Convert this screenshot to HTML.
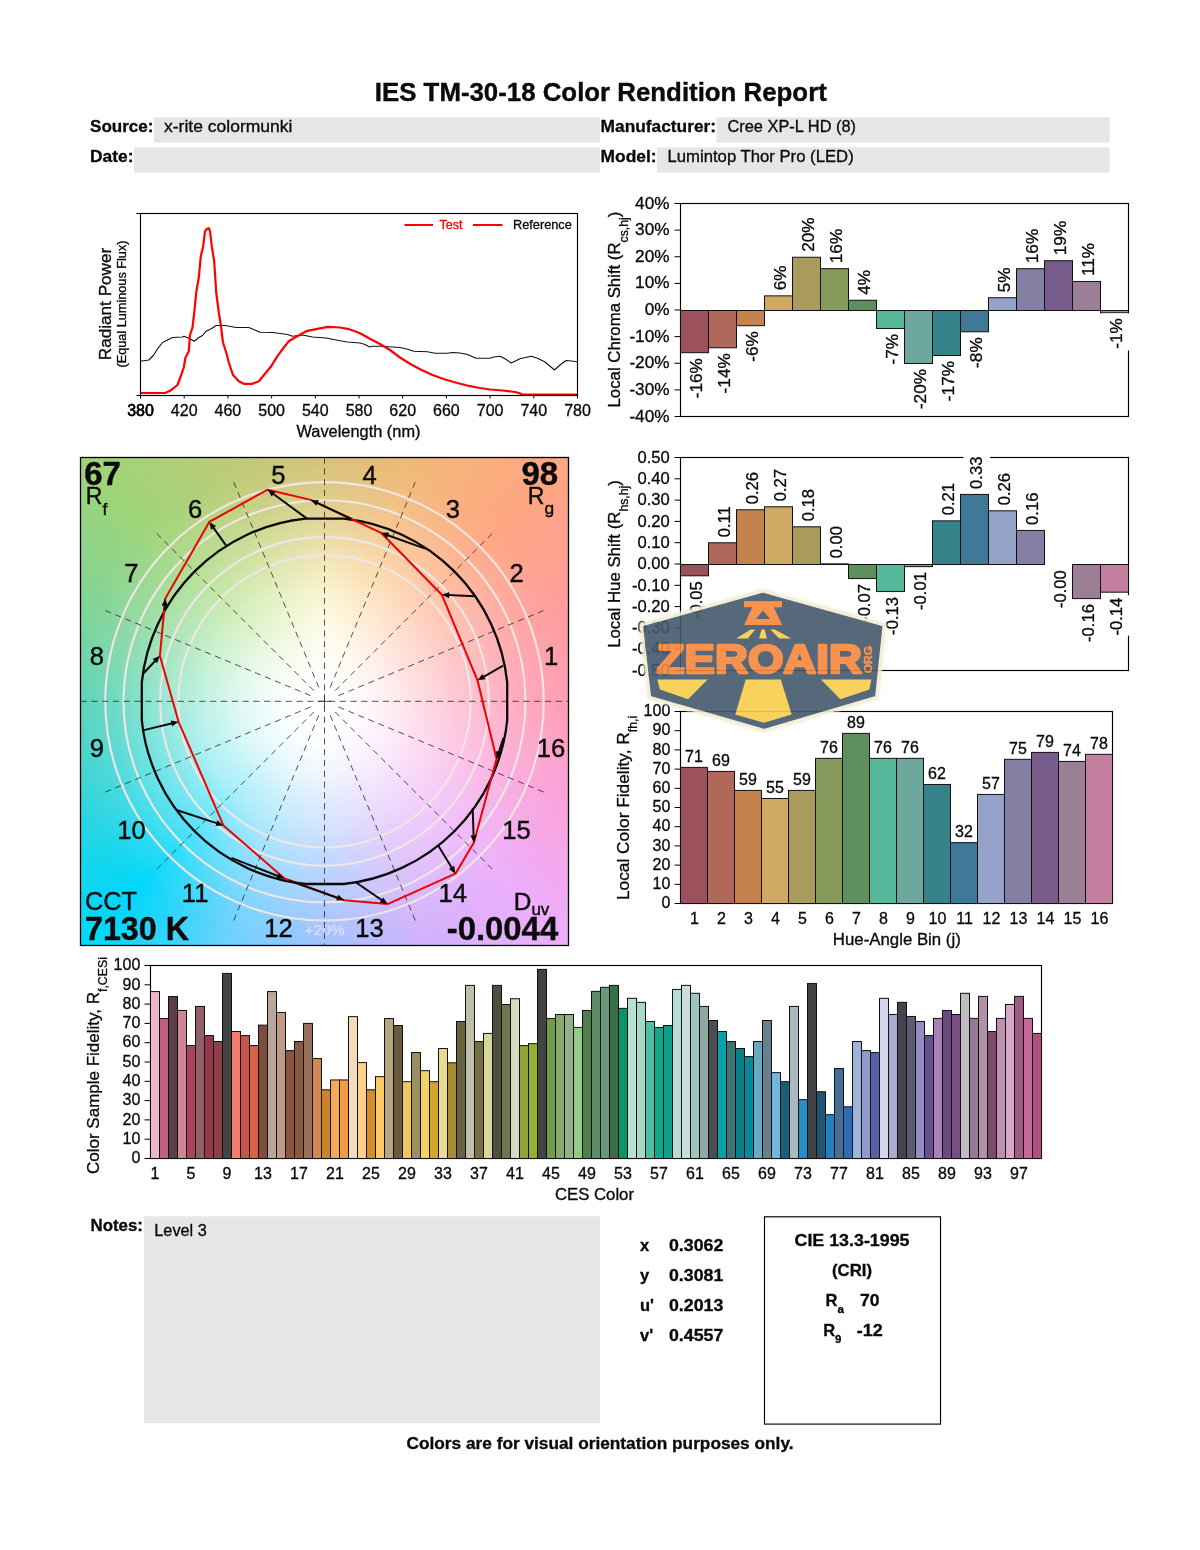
<!DOCTYPE html>
<html lang="en"><head><meta charset="utf-8"><title>IES TM-30-18 Color Rendition Report</title>
<style>
html,body{margin:0;padding:0;background:#fff;}
body{width:1200px;height:1550px;position:relative;overflow:hidden;font-family:"Liberation Sans",sans-serif;}
#cvgbg,#cvgin,#cvgwh{position:absolute;left:80.5px;top:457.5px;width:488px;height:488px;}
#cvgbg{background:conic-gradient(from 0deg at 50% 50%, #d8c278 0deg, #f2b878 22deg, #ffa682 45deg, #ff9d9c 68deg, #ff9bb4 90deg, #fba2da 112deg, #ecaefc 135deg, #d0b2fb 158deg, #9cc0ff 180deg, #6cd0fd 202deg, #00d7fa 225deg, #32d5da 248deg, #58d2b8 270deg, #80d496 292deg, #9fd479 315deg, #bccb76 338deg, #d8c278 360deg);}
#cvgin{background:conic-gradient(from 0deg at 50% 50%, #fff6c4 0deg, #ffe2b4 22deg, #ffd0b2 45deg, #ffc4c0 68deg, #ffc0d2 90deg, #fcc2e6 112deg, #f0c4fa 135deg, #dccafc 158deg, #c0d6ff 180deg, #a4e0fc 202deg, #8ee8f8 225deg, #98eeec 248deg, #a8f0dc 270deg, #b8eec0 292deg, #c8eca8 315deg, #e2f0b0 338deg, #fff6c4 360deg);-webkit-mask-image:radial-gradient(circle at 49% 51.5%, rgba(0,0,0,1) 0%, rgba(0,0,0,1) 22%, rgba(0,0,0,0.8) 34%, rgba(0,0,0,0.45) 46%, rgba(0,0,0,0.15) 58%, rgba(0,0,0,0) 70%);mask-image:radial-gradient(circle at 49% 51.5%, rgba(0,0,0,1) 0%, rgba(0,0,0,1) 22%, rgba(0,0,0,0.8) 34%, rgba(0,0,0,0.45) 46%, rgba(0,0,0,0.15) 58%, rgba(0,0,0,0) 70%);}
#cvgwh{background:radial-gradient(circle at 49% 51.5%, rgba(255,255,255,1) 0%, rgba(255,255,255,0.96) 10%, rgba(255,255,255,0.76) 18%, rgba(255,255,255,0.48) 28%, rgba(255,255,255,0.28) 38%, rgba(255,255,255,0.15) 50%, rgba(255,255,255,0.06) 62%, rgba(255,255,255,0) 74%);}
svg{position:absolute;left:0;top:0;will-change:transform;}
svg text{font-family:"Liberation Sans",sans-serif;}
</style></head><body>
<div id="cvgbg"></div><div id="cvgin"></div><div id="cvgwh"></div>
<svg width="1200" height="1550" viewBox="0 0 1200 1550">
<g id="cvg">
<circle cx="324.5" cy="701.3" r="146.2" fill="none" stroke="#efe6e4" stroke-width="2.1"/>
<circle cx="324.5" cy="701.3" r="164.4" fill="none" stroke="#efe6e4" stroke-width="2.1"/>
<circle cx="324.5" cy="701.3" r="201.0" fill="none" stroke="#efe6e4" stroke-width="2.1"/>
<circle cx="324.5" cy="701.3" r="219.2" fill="none" stroke="#efe6e4" stroke-width="2.1"/>
<text x="324.50" y="935.20" font-size="15.5" text-anchor="middle" fill="#dddcf8" stroke="#dddcf8" stroke-width="0.32">+20%</text>
<path d="M338.4 695.6L548.1 608.7M335.1 690.7L495.6 530.2M330.2 687.4L417.1 477.7M318.8 687.4L231.9 477.7M313.9 690.7L153.4 530.2M310.6 695.6L100.9 608.7M310.6 707.0L100.9 793.9M313.9 711.9L153.4 872.4M318.8 715.2L231.9 924.9M330.2 715.2L417.1 924.9M335.1 711.9L495.6 872.4M338.4 707.0L548.1 793.9M80.5 701.3H568.5M324.5 457.5V945.5" stroke="#222" stroke-width="0.85" stroke-dasharray="6.2 4.6" fill="none" opacity="0.92"/>
<path d="M317.5 701.3h14M324.5 694.3v14" stroke="#2a2a2a" stroke-width="0.8" fill="none"/>
<path d="M507.2 682.1A183.7 183.7 0 0 0 343.7 518.6L305.3 518.6A183.7 183.7 0 0 0 141.8 682.1L141.8 720.5A183.7 183.7 0 0 0 305.3 884.0L343.7 884.0A183.7 183.7 0 0 0 507.2 720.5L507.2 682.1Z" fill="none" stroke="#0a0a0a" stroke-width="2.3" stroke-linejoin="round"/>
<polygon points="477.5,680.3 441.8,594.7 381.1,532.8 310.8,499.9 267.6,489.7 209.3,521.9 165.3,598.4 159.9,655.8 178.6,721.8 223.4,825.4 284.5,878.5 344.3,900.2 387.6,904.1 455.4,873.7 473.8,842.8 496.6,758.9" fill="none" stroke="#f00000" stroke-width="2.0" stroke-linejoin="round"/>
<path d="M503.1 665.6L483.1 677.1" stroke="#0a0a0a" stroke-width="2.0" fill="none"/>
<path d="M477.5 680.3L482.4 673.9L485.5 679.3Z" fill="#0a0a0a"/>
<path d="M474.3 596.3L448.2 595.0" stroke="#0a0a0a" stroke-width="2.0" fill="none"/>
<path d="M441.8 594.7L449.3 592.0L449.0 598.2Z" fill="#0a0a0a"/>
<path d="M425.1 548.6L387.1 535.0" stroke="#0a0a0a" stroke-width="2.0" fill="none"/>
<path d="M381.1 532.8L389.1 532.4L387.0 538.2Z" fill="#0a0a0a"/>
<path d="M351.5 519.0L316.6 502.6" stroke="#0a0a0a" stroke-width="2.0" fill="none"/>
<path d="M310.8 499.9L318.8 500.2L316.2 505.8Z" fill="#0a0a0a"/>
<path d="M307.3 518.9L272.8 493.5" stroke="#0a0a0a" stroke-width="2.0" fill="none"/>
<path d="M267.6 489.7L275.4 491.6L271.7 496.6Z" fill="#0a0a0a"/>
<path d="M226.0 545.3L213.0 527.1" stroke="#0a0a0a" stroke-width="2.0" fill="none"/>
<path d="M209.3 521.9L216.1 526.1L211.1 529.7Z" fill="#0a0a0a"/>
<path d="M164.3 610.3L164.8 604.8" stroke="#0a0a0a" stroke-width="2.0" fill="none"/>
<path d="M165.3 598.4L167.8 606.0L161.6 605.5Z" fill="#0a0a0a"/>
<path d="M143.6 673.2L155.5 660.5" stroke="#0a0a0a" stroke-width="2.0" fill="none"/>
<path d="M159.9 655.8L157.1 663.3L152.6 659.1Z" fill="#0a0a0a"/>
<path d="M143.8 730.1L172.4 723.3" stroke="#0a0a0a" stroke-width="2.0" fill="none"/>
<path d="M178.6 721.8L172.1 726.5L170.7 720.5Z" fill="#0a0a0a"/>
<path d="M177.3 810.3L217.3 823.4" stroke="#0a0a0a" stroke-width="2.0" fill="none"/>
<path d="M223.4 825.4L215.4 826.0L217.3 820.2Z" fill="#0a0a0a"/>
<path d="M231.4 857.9L278.5 876.2" stroke="#0a0a0a" stroke-width="2.0" fill="none"/>
<path d="M284.5 878.5L276.5 878.7L278.7 872.9Z" fill="#0a0a0a"/>
<path d="M288.8 880.5L338.3 898.1" stroke="#0a0a0a" stroke-width="2.0" fill="none"/>
<path d="M344.3 900.2L336.3 900.6L338.4 894.8Z" fill="#0a0a0a"/>
<path d="M355.1 881.8L382.3 900.5" stroke="#0a0a0a" stroke-width="2.0" fill="none"/>
<path d="M387.6 904.1L379.7 902.5L383.3 897.4Z" fill="#0a0a0a"/>
<path d="M438.5 846.0L452.1 868.2" stroke="#0a0a0a" stroke-width="2.0" fill="none"/>
<path d="M455.4 873.7L448.9 869.0L454.2 865.8Z" fill="#0a0a0a"/>
<path d="M472.7 808.1L473.6 836.4" stroke="#0a0a0a" stroke-width="2.0" fill="none"/>
<path d="M473.8 842.8L470.5 835.5L476.7 835.3Z" fill="#0a0a0a"/>
<path d="M503.5 737.7L498.6 752.8" stroke="#0a0a0a" stroke-width="2.0" fill="none"/>
<path d="M496.6 758.9L495.9 750.9L501.8 752.8Z" fill="#0a0a0a"/>
<text x="551.06" y="665.33" font-size="25.6" text-anchor="middle" fill="#0a0a0a" stroke="#0a0a0a" stroke-width="0.4">1</text>
<text x="516.57" y="582.06" font-size="25.6" text-anchor="middle" fill="#0a0a0a" stroke="#0a0a0a" stroke-width="0.4">2</text>
<text x="452.84" y="518.33" font-size="25.6" text-anchor="middle" fill="#0a0a0a" stroke="#0a0a0a" stroke-width="0.4">3</text>
<text x="369.57" y="483.84" font-size="25.6" text-anchor="middle" fill="#0a0a0a" stroke="#0a0a0a" stroke-width="0.4">4</text>
<text x="278.43" y="483.84" font-size="25.6" text-anchor="middle" fill="#0a0a0a" stroke="#0a0a0a" stroke-width="0.4">5</text>
<text x="195.16" y="518.33" font-size="25.6" text-anchor="middle" fill="#0a0a0a" stroke="#0a0a0a" stroke-width="0.4">6</text>
<text x="131.43" y="582.06" font-size="25.6" text-anchor="middle" fill="#0a0a0a" stroke="#0a0a0a" stroke-width="0.4">7</text>
<text x="96.94" y="665.33" font-size="25.6" text-anchor="middle" fill="#0a0a0a" stroke="#0a0a0a" stroke-width="0.4">8</text>
<text x="96.94" y="756.97" font-size="25.6" text-anchor="middle" fill="#0a0a0a" stroke="#0a0a0a" stroke-width="0.4">9</text>
<text x="131.43" y="838.74" font-size="25.6" text-anchor="middle" fill="#0a0a0a" stroke="#0a0a0a" stroke-width="0.4">10</text>
<text x="195.16" y="902.47" font-size="25.6" text-anchor="middle" fill="#0a0a0a" stroke="#0a0a0a" stroke-width="0.4">11</text>
<text x="278.43" y="936.96" font-size="25.6" text-anchor="middle" fill="#0a0a0a" stroke="#0a0a0a" stroke-width="0.4">12</text>
<text x="369.57" y="936.96" font-size="25.6" text-anchor="middle" fill="#0a0a0a" stroke="#0a0a0a" stroke-width="0.4">13</text>
<text x="452.84" y="902.47" font-size="25.6" text-anchor="middle" fill="#0a0a0a" stroke="#0a0a0a" stroke-width="0.4">14</text>
<text x="516.57" y="838.74" font-size="25.6" text-anchor="middle" fill="#0a0a0a" stroke="#0a0a0a" stroke-width="0.4">15</text>
<text x="551.06" y="756.97" font-size="25.6" text-anchor="middle" fill="#0a0a0a" stroke="#0a0a0a" stroke-width="0.4">16</text>
<text x="84.20" y="485.30" font-size="33" font-weight="700" fill="#0a0a0a" stroke="#0a0a0a" stroke-width="0.4">67</text>
<text x="85.80" y="504.40" font-size="23" fill="#0a0a0a" stroke="#0a0a0a" stroke-width="0.4">R<tspan font-size="17.4" dy="11">f</tspan></text>
<text x="558.20" y="485.30" font-size="33" text-anchor="end" font-weight="700" fill="#0a0a0a" stroke="#0a0a0a" stroke-width="0.4">98</text>
<text x="527.80" y="504.40" font-size="23" fill="#0a0a0a" stroke="#0a0a0a" stroke-width="0.4">R<tspan font-size="17.4" dy="9.5">g</tspan></text>
<text x="85.00" y="909.90" font-size="26.5" fill="#0a0a0a" textLength="52.0" lengthAdjust="spacingAndGlyphs" stroke="#0a0a0a" stroke-width="0.35">CCT</text>
<text x="85.00" y="940.20" font-size="33" font-weight="700" fill="#0a0a0a" stroke="#0a0a0a" stroke-width="0.4" textLength="104.0" lengthAdjust="spacingAndGlyphs">7130 K</text>
<text x="513.80" y="909.90" font-size="23" fill="#0a0a0a" stroke="#0a0a0a" stroke-width="0.4" textLength="35.5" lengthAdjust="spacingAndGlyphs">D<tspan font-size="16" dy="5.5">uv</tspan></text>
<text x="558.20" y="940.20" font-size="33.5" text-anchor="end" font-weight="700" fill="#0a0a0a" stroke="#0a0a0a" stroke-width="0.4" textLength="111.5" lengthAdjust="spacingAndGlyphs">-0.0044</text>
<rect x="80.5" y="457.5" width="488.0" height="488.0" fill="none" stroke="#000" stroke-width="1.3"/>
</g>
<g id="charts">
<rect x="154" y="117.3" width="446" height="25.3" fill="#e6e6e6"/>
<rect x="134" y="147.4" width="466" height="25.2" fill="#e6e6e6"/>
<rect x="716.5" y="117.3" width="393.2" height="25.3" fill="#e6e6e6"/>
<rect x="657" y="147.4" width="452.7" height="25.2" fill="#e6e6e6"/>
<text x="600.80" y="101.00" font-size="26" text-anchor="middle" font-weight="700" fill="#0a0a0a" stroke="#0a0a0a" stroke-width="0.4" textLength="452.0" lengthAdjust="spacingAndGlyphs">IES TM-30-18 Color Rendition Report</text>
<text x="90.00" y="132.00" font-size="17" font-weight="700" fill="#0a0a0a" stroke="#0a0a0a" stroke-width="0.32" textLength="63.5" lengthAdjust="spacingAndGlyphs">Source:</text>
<text x="90.00" y="161.80" font-size="17" font-weight="700" fill="#0a0a0a" stroke="#0a0a0a" stroke-width="0.32" textLength="43.5" lengthAdjust="spacingAndGlyphs">Date:</text>
<text x="600.60" y="132.00" font-size="17" font-weight="700" fill="#0a0a0a" stroke="#0a0a0a" stroke-width="0.32" textLength="115.5" lengthAdjust="spacingAndGlyphs">Manufacturer:</text>
<text x="600.60" y="161.80" font-size="17" font-weight="700" fill="#0a0a0a" stroke="#0a0a0a" stroke-width="0.32" textLength="56.0" lengthAdjust="spacingAndGlyphs">Model:</text>
<text x="164.00" y="132.00" font-size="17" fill="#0a0a0a" stroke="#0a0a0a" stroke-width="0.32" textLength="128.5" lengthAdjust="spacingAndGlyphs">x-rite colormunki</text>
<text x="727.50" y="132.00" font-size="17" fill="#0a0a0a" stroke="#0a0a0a" stroke-width="0.32" textLength="128.5" lengthAdjust="spacingAndGlyphs">Cree XP-L HD (8)</text>
<text x="667.50" y="161.80" font-size="17" fill="#0a0a0a" stroke="#0a0a0a" stroke-width="0.32" textLength="186.2" lengthAdjust="spacingAndGlyphs">Lumintop Thor Pro (LED)</text>
<polyline points="140.2,361.2 148.8,360.0 153.8,355.0 157.5,348.8 162.5,342.5 172.5,337.5 182.5,337.0 183.8,336.2 190.0,338.8 194.2,341.2 198.8,337.5 202.5,335.5 206.2,331.2 211.2,328.8 216.2,325.5 225.0,325.5 236.2,327.5 248.8,327.5 255.0,330.0 260.0,332.2 272.5,332.5 287.5,334.5 292.5,336.2 302.5,335.0 312.5,337.0 326.2,338.0 340.0,340.8 347.5,342.0 360.0,343.0 365.0,344.5 369.5,347.0 372.5,346.2 380.0,346.2 400.0,347.5 407.5,349.2 413.8,351.2 427.5,351.8 435.0,353.2 447.5,353.2 452.5,352.5 460.0,353.0 467.5,354.5 476.2,358.2 490.0,358.2 493.8,357.0 500.0,356.2 505.0,358.8 511.2,363.0 520.0,358.8 531.2,356.2 537.5,358.2 545.0,362.0 554.5,370.0 560.0,365.0 566.2,360.5 571.2,361.0 577.0,361.8" fill="none" stroke="#111" stroke-width="1.1" stroke-linejoin="round"/>
<polyline points="140.2,393.0 165.0,393.0 170.0,390.8 173.8,388.0 177.5,385.0 181.2,375.0 183.8,367.5 185.5,357.5 188.8,351.2 190.0,335.0 192.5,327.5 194.5,310.0 196.2,292.5 198.8,277.5 200.8,256.2 203.2,246.2 205.0,231.2 207.0,228.8 208.8,228.2 210.0,231.2 211.8,246.2 214.2,261.2 216.2,292.5 218.8,312.5 220.8,325.0 223.0,342.5 226.2,352.5 228.8,362.5 233.0,375.0 238.8,381.2 243.8,383.8 252.5,383.8 258.8,381.2 265.0,373.8 271.2,366.2 277.5,356.2 283.8,347.5 288.8,341.2 295.0,337.5 306.2,331.2 317.5,328.8 327.5,326.8 340.0,327.5 347.5,328.8 355.0,331.2 360.0,333.2 370.0,338.8 380.0,344.0 390.0,350.0 400.0,357.5 410.0,363.8 420.0,369.2 432.5,375.0 445.0,379.5 457.5,383.0 470.0,386.2 480.0,388.0 490.0,389.5 502.5,390.5 515.0,392.0 518.8,393.0 522.5,394.5 577.0,394.5" fill="none" stroke="#ff0000" stroke-width="2.2" stroke-linejoin="round"/>
<rect x="140.5" y="213.5" width="437.0" height="182.0" fill="none" stroke="#000" stroke-width="1.15"/>
<path d="M140.50 395.5v3M184.20 395.5v3M227.90 395.5v3M271.60 395.5v3M315.30 395.5v3M359.00 395.5v3M402.70 395.5v3M446.40 395.5v3M490.10 395.5v3M533.80 395.5v3M577.50 395.5v3M140.5 213.5h-4M140.5 395.5h-4" stroke="#000" stroke-width="1" fill="none"/>
<text x="140.50" y="416.00" font-size="16" text-anchor="middle" fill="#0a0a0a" stroke="#0a0a0a" stroke-width="0.32">380</text>
<text x="184.20" y="416.00" font-size="16" text-anchor="middle" fill="#0a0a0a" stroke="#0a0a0a" stroke-width="0.32">420</text>
<text x="227.90" y="416.00" font-size="16" text-anchor="middle" fill="#0a0a0a" stroke="#0a0a0a" stroke-width="0.32">460</text>
<text x="271.60" y="416.00" font-size="16" text-anchor="middle" fill="#0a0a0a" stroke="#0a0a0a" stroke-width="0.32">500</text>
<text x="315.30" y="416.00" font-size="16" text-anchor="middle" fill="#0a0a0a" stroke="#0a0a0a" stroke-width="0.32">540</text>
<text x="359.00" y="416.00" font-size="16" text-anchor="middle" fill="#0a0a0a" stroke="#0a0a0a" stroke-width="0.32">580</text>
<text x="402.70" y="416.00" font-size="16" text-anchor="middle" fill="#0a0a0a" stroke="#0a0a0a" stroke-width="0.32">620</text>
<text x="446.40" y="416.00" font-size="16" text-anchor="middle" fill="#0a0a0a" stroke="#0a0a0a" stroke-width="0.32">660</text>
<text x="490.10" y="416.00" font-size="16" text-anchor="middle" fill="#0a0a0a" stroke="#0a0a0a" stroke-width="0.32">700</text>
<text x="533.80" y="416.00" font-size="16" text-anchor="middle" fill="#0a0a0a" stroke="#0a0a0a" stroke-width="0.32">740</text>
<text x="577.50" y="416.00" font-size="16" text-anchor="middle" fill="#0a0a0a" stroke="#0a0a0a" stroke-width="0.32">780</text>
<text x="140.50" y="416.00" font-size="16" text-anchor="middle" fill="#0a0a0a" stroke="#0a0a0a" stroke-width="0.32">380</text>
<text x="358.50" y="436.50" font-size="16.5" text-anchor="middle" fill="#0a0a0a" stroke="#0a0a0a" stroke-width="0.32" textLength="124.0" lengthAdjust="spacingAndGlyphs">Wavelength (nm)</text>
<text transform="translate(111.00 304.00) rotate(-90)" font-size="16.5" text-anchor="middle" fill="#0a0a0a" stroke="#0a0a0a" stroke-width="0.32" textLength="112.5" lengthAdjust="spacingAndGlyphs">Radiant Power</text>
<text transform="translate(126.00 304.00) rotate(-90)" font-size="12" text-anchor="middle" fill="#0a0a0a" stroke="#0a0a0a" stroke-width="0.32" textLength="127.0" lengthAdjust="spacingAndGlyphs">(Equal Luminous Flux)</text>
<path d="M404.5 225h28.5M473 225h29.5" stroke="#ff0000" stroke-width="2.2"/>
<text x="439.50" y="229.00" font-size="12.5" fill="#ff0000" stroke="#ff0000" stroke-width="0.32" textLength="23.0" lengthAdjust="spacingAndGlyphs">Test</text>
<text x="513.00" y="229.00" font-size="12.5" fill="#0a0a0a" stroke="#0a0a0a" stroke-width="0.32" textLength="58.8" lengthAdjust="spacingAndGlyphs">Reference</text>
<rect x="680.5" y="203.5" width="448.0" height="213.0" fill="#fff" stroke="#000" stroke-width="1.15"/>
<rect x="680.50" y="310.50" width="28.0" height="42.20" fill="#9B525C" stroke="#111" stroke-width="1"/>
<rect x="708.50" y="310.50" width="28.0" height="37.27" fill="#B0685A" stroke="#111" stroke-width="1"/>
<rect x="736.50" y="310.50" width="28.0" height="15.18" fill="#C4834E" stroke="#111" stroke-width="1"/>
<rect x="764.50" y="295.86" width="28.0" height="14.64" fill="#CFAA65" stroke="#111" stroke-width="1"/>
<rect x="792.50" y="257.25" width="28.0" height="53.25" fill="#A89B5C" stroke="#111" stroke-width="1"/>
<rect x="820.50" y="268.70" width="28.0" height="41.80" fill="#859A5B" stroke="#111" stroke-width="1"/>
<rect x="848.50" y="300.25" width="28.0" height="10.25" fill="#608F5F" stroke="#111" stroke-width="1"/>
<rect x="876.50" y="310.50" width="28.0" height="17.97" fill="#55B89A" stroke="#111" stroke-width="1"/>
<rect x="904.50" y="310.50" width="28.0" height="52.98" fill="#6DA89F" stroke="#111" stroke-width="1"/>
<rect x="932.50" y="310.50" width="28.0" height="45.00" fill="#35828A" stroke="#111" stroke-width="1"/>
<rect x="960.50" y="310.50" width="28.0" height="21.30" fill="#407898" stroke="#111" stroke-width="1"/>
<rect x="988.50" y="297.72" width="28.0" height="12.78" fill="#95A3CB" stroke="#111" stroke-width="1"/>
<rect x="1016.50" y="268.70" width="28.0" height="41.80" fill="#8480A3" stroke="#111" stroke-width="1"/>
<rect x="1044.50" y="260.71" width="28.0" height="49.79" fill="#775C8C" stroke="#111" stroke-width="1"/>
<rect x="1072.50" y="281.48" width="28.0" height="29.02" fill="#9B7F96" stroke="#111" stroke-width="1"/>
<rect x="1100.50" y="310.50" width="28.0" height="2.26" fill="#C37F9D" stroke="#111" stroke-width="1"/>
<text transform="translate(701.80 358.20) rotate(-90)" font-size="17.2" text-anchor="end" fill="#0a0a0a" stroke="#0a0a0a" stroke-width="0.32">-16%</text>
<text transform="translate(729.80 353.27) rotate(-90)" font-size="17.2" text-anchor="end" fill="#0a0a0a" stroke="#0a0a0a" stroke-width="0.32">-14%</text>
<text transform="translate(757.80 331.18) rotate(-90)" font-size="17.2" text-anchor="end" fill="#0a0a0a" stroke="#0a0a0a" stroke-width="0.32">-6%</text>
<text transform="translate(785.80 290.36) rotate(-90)" font-size="17.2" fill="#0a0a0a" stroke="#0a0a0a" stroke-width="0.32">6%</text>
<text transform="translate(813.80 251.75) rotate(-90)" font-size="17.2" fill="#0a0a0a" stroke="#0a0a0a" stroke-width="0.32">20%</text>
<text transform="translate(841.80 263.20) rotate(-90)" font-size="17.2" fill="#0a0a0a" stroke="#0a0a0a" stroke-width="0.32">16%</text>
<text transform="translate(869.80 294.75) rotate(-90)" font-size="17.2" fill="#0a0a0a" stroke="#0a0a0a" stroke-width="0.32">4%</text>
<text transform="translate(897.80 333.97) rotate(-90)" font-size="17.2" text-anchor="end" fill="#0a0a0a" stroke="#0a0a0a" stroke-width="0.32">-7%</text>
<text transform="translate(925.80 368.98) rotate(-90)" font-size="17.2" text-anchor="end" fill="#0a0a0a" stroke="#0a0a0a" stroke-width="0.32">-20%</text>
<text transform="translate(953.80 361.00) rotate(-90)" font-size="17.2" text-anchor="end" fill="#0a0a0a" stroke="#0a0a0a" stroke-width="0.32">-17%</text>
<text transform="translate(981.80 337.30) rotate(-90)" font-size="17.2" text-anchor="end" fill="#0a0a0a" stroke="#0a0a0a" stroke-width="0.32">-8%</text>
<text transform="translate(1009.80 292.22) rotate(-90)" font-size="17.2" fill="#0a0a0a" stroke="#0a0a0a" stroke-width="0.32">5%</text>
<text transform="translate(1037.80 263.20) rotate(-90)" font-size="17.2" fill="#0a0a0a" stroke="#0a0a0a" stroke-width="0.32">16%</text>
<text transform="translate(1065.80 255.21) rotate(-90)" font-size="17.2" fill="#0a0a0a" stroke="#0a0a0a" stroke-width="0.32">19%</text>
<text transform="translate(1093.80 275.98) rotate(-90)" font-size="17.2" fill="#0a0a0a" stroke="#0a0a0a" stroke-width="0.32">11%</text>
<rect x="1102.5" y="313.4" width="28" height="37" fill="#fff"/>
<text transform="translate(1121.80 318.26) rotate(-90)" font-size="17.2" text-anchor="end" fill="#0a0a0a" stroke="#0a0a0a" stroke-width="0.32">-1%</text>
<text x="669.50" y="208.60" font-size="17.2" text-anchor="end" fill="#0a0a0a" stroke="#0a0a0a" stroke-width="0.32">40%</text>
<text x="669.50" y="235.22" font-size="17.2" text-anchor="end" fill="#0a0a0a" stroke="#0a0a0a" stroke-width="0.32">30%</text>
<text x="669.50" y="261.85" font-size="17.2" text-anchor="end" fill="#0a0a0a" stroke="#0a0a0a" stroke-width="0.32">20%</text>
<text x="669.50" y="288.48" font-size="17.2" text-anchor="end" fill="#0a0a0a" stroke="#0a0a0a" stroke-width="0.32">10%</text>
<text x="669.50" y="315.10" font-size="17.2" text-anchor="end" fill="#0a0a0a" stroke="#0a0a0a" stroke-width="0.32">0%</text>
<text x="669.50" y="341.73" font-size="17.2" text-anchor="end" fill="#0a0a0a" stroke="#0a0a0a" stroke-width="0.32">-10%</text>
<text x="669.50" y="368.35" font-size="17.2" text-anchor="end" fill="#0a0a0a" stroke="#0a0a0a" stroke-width="0.32">-20%</text>
<text x="669.50" y="394.98" font-size="17.2" text-anchor="end" fill="#0a0a0a" stroke="#0a0a0a" stroke-width="0.32">-30%</text>
<text x="669.50" y="421.60" font-size="17.2" text-anchor="end" fill="#0a0a0a" stroke="#0a0a0a" stroke-width="0.32">-40%</text>
<path d="M680.5 203.50h-6M680.5 230.12h-6M680.5 256.75h-6M680.5 283.38h-6M680.5 310.00h-6M680.5 336.62h-6M680.5 363.25h-6M680.5 389.88h-6M680.5 416.50h-6" stroke="#000" stroke-width="1" fill="none"/>
<text transform="translate(620.30 407.50) rotate(-90)" font-size="16.8" fill="#0a0a0a" stroke="#0a0a0a" stroke-width="0.32">Local Chroma Shift (R<tspan font-size="12.2" dy="7.5">cs,hj</tspan><tspan font-size="16.8" dy="-7.5">)</tspan></text>
<rect x="680.5" y="457.5" width="448.0" height="213.0" fill="#fff" stroke="#000" stroke-width="1.15"/>
<rect x="680.50" y="564.50" width="28.0" height="11.29" fill="#9B525C" stroke="#111" stroke-width="1"/>
<rect x="708.50" y="542.77" width="28.0" height="21.73" fill="#B0685A" stroke="#111" stroke-width="1"/>
<rect x="736.50" y="509.76" width="28.0" height="54.74" fill="#C4834E" stroke="#111" stroke-width="1"/>
<rect x="764.50" y="506.78" width="28.0" height="57.72" fill="#CFAA65" stroke="#111" stroke-width="1"/>
<rect x="792.50" y="526.80" width="28.0" height="37.70" fill="#A89B5C" stroke="#111" stroke-width="1"/>
<rect x="820.50" y="563.86" width="28.0" height="0.64" fill="#859A5B" stroke="#111" stroke-width="1"/>
<rect x="848.50" y="564.50" width="28.0" height="14.06" fill="#608F5F" stroke="#111" stroke-width="1"/>
<rect x="876.50" y="564.50" width="28.0" height="27.05" fill="#55B89A" stroke="#111" stroke-width="1"/>
<rect x="904.50" y="564.50" width="28.0" height="2.13" fill="#6DA89F" stroke="#111" stroke-width="1"/>
<rect x="932.50" y="520.84" width="28.0" height="43.66" fill="#35828A" stroke="#111" stroke-width="1"/>
<rect x="960.50" y="494.42" width="28.0" height="70.08" fill="#407898" stroke="#111" stroke-width="1"/>
<rect x="988.50" y="510.82" width="28.0" height="53.68" fill="#95A3CB" stroke="#111" stroke-width="1"/>
<rect x="1016.50" y="530.42" width="28.0" height="34.08" fill="#8480A3" stroke="#111" stroke-width="1"/>
<rect x="1072.50" y="564.50" width="28.0" height="34.08" fill="#9B7F96" stroke="#111" stroke-width="1"/>
<rect x="1100.50" y="564.50" width="28.0" height="27.69" fill="#C37F9D" stroke="#111" stroke-width="1"/>
<text transform="translate(701.60 581.29) rotate(-90)" font-size="16.6" text-anchor="end" fill="#0a0a0a" stroke="#0a0a0a" stroke-width="0.32">-0.05</text>
<text transform="translate(729.60 537.27) rotate(-90)" font-size="16.6" fill="#0a0a0a" stroke="#0a0a0a" stroke-width="0.32">0.11</text>
<text transform="translate(757.60 504.26) rotate(-90)" font-size="16.6" fill="#0a0a0a" stroke="#0a0a0a" stroke-width="0.32">0.26</text>
<text transform="translate(785.60 501.28) rotate(-90)" font-size="16.6" fill="#0a0a0a" stroke="#0a0a0a" stroke-width="0.32">0.27</text>
<text transform="translate(813.60 521.30) rotate(-90)" font-size="16.6" fill="#0a0a0a" stroke="#0a0a0a" stroke-width="0.32">0.18</text>
<text transform="translate(841.60 558.36) rotate(-90)" font-size="16.6" fill="#0a0a0a" stroke="#0a0a0a" stroke-width="0.32">0.00</text>
<text transform="translate(869.60 584.06) rotate(-90)" font-size="16.6" text-anchor="end" fill="#0a0a0a" stroke="#0a0a0a" stroke-width="0.32">-0.07</text>
<text transform="translate(897.60 597.05) rotate(-90)" font-size="16.6" text-anchor="end" fill="#0a0a0a" stroke="#0a0a0a" stroke-width="0.32">-0.13</text>
<text transform="translate(925.60 572.13) rotate(-90)" font-size="16.6" text-anchor="end" fill="#0a0a0a" stroke="#0a0a0a" stroke-width="0.32">-0.01</text>
<text transform="translate(953.60 515.34) rotate(-90)" font-size="16.6" fill="#0a0a0a" stroke="#0a0a0a" stroke-width="0.32">0.21</text>
<rect x="963.5" y="455.3" width="26.5" height="35.1" fill="#fff"/>
<text transform="translate(981.60 488.92) rotate(-90)" font-size="16.6" fill="#0a0a0a" stroke="#0a0a0a" stroke-width="0.32">0.33</text>
<text transform="translate(1009.60 505.32) rotate(-90)" font-size="16.6" fill="#0a0a0a" stroke="#0a0a0a" stroke-width="0.32">0.26</text>
<text transform="translate(1037.60 524.92) rotate(-90)" font-size="16.6" fill="#0a0a0a" stroke="#0a0a0a" stroke-width="0.32">0.16</text>
<text transform="translate(1065.60 570.21) rotate(-90)" font-size="16.6" text-anchor="end" fill="#0a0a0a" stroke="#0a0a0a" stroke-width="0.32">-0.00</text>
<text transform="translate(1093.60 604.08) rotate(-90)" font-size="16.6" text-anchor="end" fill="#0a0a0a" stroke="#0a0a0a" stroke-width="0.32">-0.16</text>
<rect x="1102.5" y="595.2" width="28" height="40.5" fill="#fff"/>
<text transform="translate(1121.60 597.69) rotate(-90)" font-size="16.6" text-anchor="end" fill="#0a0a0a" stroke="#0a0a0a" stroke-width="0.32">-0.14</text>
<text x="669.80" y="462.70" font-size="16.6" text-anchor="end" fill="#0a0a0a" stroke="#0a0a0a" stroke-width="0.32">0.50</text>
<text x="669.80" y="484.00" font-size="16.6" text-anchor="end" fill="#0a0a0a" stroke="#0a0a0a" stroke-width="0.32">0.40</text>
<text x="669.80" y="505.30" font-size="16.6" text-anchor="end" fill="#0a0a0a" stroke="#0a0a0a" stroke-width="0.32">0.30</text>
<text x="669.80" y="526.60" font-size="16.6" text-anchor="end" fill="#0a0a0a" stroke="#0a0a0a" stroke-width="0.32">0.20</text>
<text x="669.80" y="547.90" font-size="16.6" text-anchor="end" fill="#0a0a0a" stroke="#0a0a0a" stroke-width="0.32">0.10</text>
<text x="669.80" y="569.20" font-size="16.6" text-anchor="end" fill="#0a0a0a" stroke="#0a0a0a" stroke-width="0.32">0.00</text>
<text x="669.80" y="590.50" font-size="16.6" text-anchor="end" fill="#0a0a0a" stroke="#0a0a0a" stroke-width="0.32">-0.10</text>
<text x="669.80" y="611.80" font-size="16.6" text-anchor="end" fill="#0a0a0a" stroke="#0a0a0a" stroke-width="0.32">-0.20</text>
<text x="669.80" y="633.10" font-size="16.6" text-anchor="end" fill="#0a0a0a" stroke="#0a0a0a" stroke-width="0.32">-0.30</text>
<text x="669.80" y="654.40" font-size="16.6" text-anchor="end" fill="#0a0a0a" stroke="#0a0a0a" stroke-width="0.32">-0.40</text>
<text x="669.80" y="675.70" font-size="16.6" text-anchor="end" fill="#0a0a0a" stroke="#0a0a0a" stroke-width="0.32">-0.50</text>
<path d="M680.5 457.50h-6M680.5 478.80h-6M680.5 500.10h-6M680.5 521.40h-6M680.5 542.70h-6M680.5 564.00h-6M680.5 585.30h-6M680.5 606.60h-6M680.5 627.90h-6M680.5 649.20h-6M680.5 670.50h-6" stroke="#000" stroke-width="1" fill="none"/>
<text transform="translate(620.30 647.80) rotate(-90)" font-size="16.8" fill="#0a0a0a" stroke="#0a0a0a" stroke-width="0.32">Local Hue Shift (R<tspan font-size="12.2" dy="7.5">hs,hj</tspan><tspan font-size="16.8" dy="-7.5">)</tspan></text>
<rect x="680.5" y="711.5" width="432.0" height="192.0" fill="#fff" stroke="#000" stroke-width="1.15"/>
<rect x="680.50" y="767.37" width="27.0" height="136.13" fill="#9B525C" stroke="#111" stroke-width="1"/>
<text x="694.00" y="761.87" font-size="16" text-anchor="middle" fill="#0a0a0a" stroke="#0a0a0a" stroke-width="0.32">71</text>
<text x="694.50" y="924.00" font-size="16" text-anchor="middle" fill="#0a0a0a" stroke="#0a0a0a" stroke-width="0.32">1</text>
<rect x="707.50" y="771.40" width="27.0" height="132.10" fill="#B0685A" stroke="#111" stroke-width="1"/>
<text x="721.00" y="765.90" font-size="16" text-anchor="middle" fill="#0a0a0a" stroke="#0a0a0a" stroke-width="0.32">69</text>
<text x="721.50" y="924.00" font-size="16" text-anchor="middle" fill="#0a0a0a" stroke="#0a0a0a" stroke-width="0.32">2</text>
<rect x="734.50" y="790.41" width="27.0" height="113.09" fill="#C4834E" stroke="#111" stroke-width="1"/>
<text x="748.00" y="784.91" font-size="16" text-anchor="middle" fill="#0a0a0a" stroke="#0a0a0a" stroke-width="0.32">59</text>
<text x="748.50" y="924.00" font-size="16" text-anchor="middle" fill="#0a0a0a" stroke="#0a0a0a" stroke-width="0.32">3</text>
<rect x="761.50" y="798.48" width="27.0" height="105.02" fill="#CFAA65" stroke="#111" stroke-width="1"/>
<text x="775.00" y="792.98" font-size="16" text-anchor="middle" fill="#0a0a0a" stroke="#0a0a0a" stroke-width="0.32">55</text>
<text x="775.50" y="924.00" font-size="16" text-anchor="middle" fill="#0a0a0a" stroke="#0a0a0a" stroke-width="0.32">4</text>
<rect x="788.50" y="790.41" width="27.0" height="113.09" fill="#A89B5C" stroke="#111" stroke-width="1"/>
<text x="802.00" y="784.91" font-size="16" text-anchor="middle" fill="#0a0a0a" stroke="#0a0a0a" stroke-width="0.32">59</text>
<text x="802.50" y="924.00" font-size="16" text-anchor="middle" fill="#0a0a0a" stroke="#0a0a0a" stroke-width="0.32">5</text>
<rect x="815.50" y="758.35" width="27.0" height="145.15" fill="#859A5B" stroke="#111" stroke-width="1"/>
<text x="829.00" y="752.85" font-size="16" text-anchor="middle" fill="#0a0a0a" stroke="#0a0a0a" stroke-width="0.32">76</text>
<text x="829.50" y="924.00" font-size="16" text-anchor="middle" fill="#0a0a0a" stroke="#0a0a0a" stroke-width="0.32">6</text>
<rect x="842.50" y="733.39" width="27.0" height="170.11" fill="#608F5F" stroke="#111" stroke-width="1"/>
<text x="856.00" y="727.89" font-size="16" text-anchor="middle" fill="#0a0a0a" stroke="#0a0a0a" stroke-width="0.32">89</text>
<text x="856.50" y="924.00" font-size="16" text-anchor="middle" fill="#0a0a0a" stroke="#0a0a0a" stroke-width="0.32">7</text>
<rect x="869.50" y="758.35" width="27.0" height="145.15" fill="#55B89A" stroke="#111" stroke-width="1"/>
<text x="883.00" y="752.85" font-size="16" text-anchor="middle" fill="#0a0a0a" stroke="#0a0a0a" stroke-width="0.32">76</text>
<text x="883.50" y="924.00" font-size="16" text-anchor="middle" fill="#0a0a0a" stroke="#0a0a0a" stroke-width="0.32">8</text>
<rect x="896.50" y="758.35" width="27.0" height="145.15" fill="#6DA89F" stroke="#111" stroke-width="1"/>
<text x="910.00" y="752.85" font-size="16" text-anchor="middle" fill="#0a0a0a" stroke="#0a0a0a" stroke-width="0.32">76</text>
<text x="910.50" y="924.00" font-size="16" text-anchor="middle" fill="#0a0a0a" stroke="#0a0a0a" stroke-width="0.32">9</text>
<rect x="923.50" y="784.46" width="27.0" height="119.04" fill="#35828A" stroke="#111" stroke-width="1"/>
<text x="937.00" y="778.96" font-size="16" text-anchor="middle" fill="#0a0a0a" stroke="#0a0a0a" stroke-width="0.32">62</text>
<text x="937.50" y="924.00" font-size="16" text-anchor="middle" fill="#0a0a0a" stroke="#0a0a0a" stroke-width="0.32">10</text>
<rect x="950.50" y="842.64" width="27.0" height="60.86" fill="#407898" stroke="#111" stroke-width="1"/>
<text x="964.00" y="837.14" font-size="16" text-anchor="middle" fill="#0a0a0a" stroke="#0a0a0a" stroke-width="0.32">32</text>
<text x="964.50" y="924.00" font-size="16" text-anchor="middle" fill="#0a0a0a" stroke="#0a0a0a" stroke-width="0.32">11</text>
<rect x="977.50" y="794.44" width="27.0" height="109.06" fill="#95A3CB" stroke="#111" stroke-width="1"/>
<text x="991.00" y="788.94" font-size="16" text-anchor="middle" fill="#0a0a0a" stroke="#0a0a0a" stroke-width="0.32">57</text>
<text x="991.50" y="924.00" font-size="16" text-anchor="middle" fill="#0a0a0a" stroke="#0a0a0a" stroke-width="0.32">12</text>
<rect x="1004.50" y="759.31" width="27.0" height="144.19" fill="#8480A3" stroke="#111" stroke-width="1"/>
<text x="1018.00" y="753.81" font-size="16" text-anchor="middle" fill="#0a0a0a" stroke="#0a0a0a" stroke-width="0.32">75</text>
<text x="1018.50" y="924.00" font-size="16" text-anchor="middle" fill="#0a0a0a" stroke="#0a0a0a" stroke-width="0.32">13</text>
<rect x="1031.50" y="752.40" width="27.0" height="151.10" fill="#775C8C" stroke="#111" stroke-width="1"/>
<text x="1045.00" y="746.90" font-size="16" text-anchor="middle" fill="#0a0a0a" stroke="#0a0a0a" stroke-width="0.32">79</text>
<text x="1045.50" y="924.00" font-size="16" text-anchor="middle" fill="#0a0a0a" stroke="#0a0a0a" stroke-width="0.32">14</text>
<rect x="1058.50" y="761.42" width="27.0" height="142.08" fill="#9B7F96" stroke="#111" stroke-width="1"/>
<text x="1072.00" y="755.92" font-size="16" text-anchor="middle" fill="#0a0a0a" stroke="#0a0a0a" stroke-width="0.32">74</text>
<text x="1072.50" y="924.00" font-size="16" text-anchor="middle" fill="#0a0a0a" stroke="#0a0a0a" stroke-width="0.32">15</text>
<rect x="1085.50" y="754.32" width="27.0" height="149.18" fill="#C37F9D" stroke="#111" stroke-width="1"/>
<text x="1099.00" y="748.82" font-size="16" text-anchor="middle" fill="#0a0a0a" stroke="#0a0a0a" stroke-width="0.32">78</text>
<text x="1099.50" y="924.00" font-size="16" text-anchor="middle" fill="#0a0a0a" stroke="#0a0a0a" stroke-width="0.32">16</text>
<text x="670.30" y="908.20" font-size="16" text-anchor="end" fill="#0a0a0a" stroke="#0a0a0a" stroke-width="0.32">0</text>
<text x="670.30" y="889.00" font-size="16" text-anchor="end" fill="#0a0a0a" stroke="#0a0a0a" stroke-width="0.32">10</text>
<text x="670.30" y="869.80" font-size="16" text-anchor="end" fill="#0a0a0a" stroke="#0a0a0a" stroke-width="0.32">20</text>
<text x="670.30" y="850.60" font-size="16" text-anchor="end" fill="#0a0a0a" stroke="#0a0a0a" stroke-width="0.32">30</text>
<text x="670.30" y="831.40" font-size="16" text-anchor="end" fill="#0a0a0a" stroke="#0a0a0a" stroke-width="0.32">40</text>
<text x="670.30" y="812.20" font-size="16" text-anchor="end" fill="#0a0a0a" stroke="#0a0a0a" stroke-width="0.32">50</text>
<text x="670.30" y="793.00" font-size="16" text-anchor="end" fill="#0a0a0a" stroke="#0a0a0a" stroke-width="0.32">60</text>
<text x="670.30" y="773.80" font-size="16" text-anchor="end" fill="#0a0a0a" stroke="#0a0a0a" stroke-width="0.32">70</text>
<text x="670.30" y="754.60" font-size="16" text-anchor="end" fill="#0a0a0a" stroke="#0a0a0a" stroke-width="0.32">80</text>
<text x="670.30" y="735.40" font-size="16" text-anchor="end" fill="#0a0a0a" stroke="#0a0a0a" stroke-width="0.32">90</text>
<text x="670.30" y="716.20" font-size="16" text-anchor="end" fill="#0a0a0a" stroke="#0a0a0a" stroke-width="0.32">100</text>
<path d="M680.5 903.50h-6M680.5 884.30h-6M680.5 865.10h-6M680.5 845.90h-6M680.5 826.70h-6M680.5 807.50h-6M680.5 788.30h-6M680.5 769.10h-6M680.5 749.90h-6M680.5 730.70h-6M680.5 711.50h-6" stroke="#000" stroke-width="1" fill="none"/>
<text x="896.80" y="944.50" font-size="16.5" text-anchor="middle" fill="#0a0a0a" stroke="#0a0a0a" stroke-width="0.32" textLength="128.0" lengthAdjust="spacingAndGlyphs">Hue-Angle Bin (j)</text>
<text transform="translate(629.00 900.00) rotate(-90)" font-size="17.3" fill="#0a0a0a" stroke="#0a0a0a" stroke-width="0.32">Local Color Fidelity, R<tspan font-size="12.4" dy="8">fh,i</tspan></text>
<rect x="150.5" y="965.5" width="891.0" height="193.0" fill="#fff" stroke="#000" stroke-width="1.15"/>
<rect x="150.50" y="991.56" width="9.0" height="166.94" fill="#EDB5CC" stroke="#111" stroke-width="1"/>
<text x="155.00" y="1178.80" font-size="16" text-anchor="middle" fill="#0a0a0a" stroke="#0a0a0a" stroke-width="0.32">1</text>
<rect x="159.50" y="1018.58" width="9.0" height="139.92" fill="#C4607F" stroke="#111" stroke-width="1"/>
<rect x="168.50" y="996.57" width="9.0" height="161.93" fill="#5D3D45" stroke="#111" stroke-width="1"/>
<rect x="177.50" y="1010.47" width="9.0" height="148.03" fill="#D08596" stroke="#111" stroke-width="1"/>
<rect x="186.50" y="1045.60" width="9.0" height="112.91" fill="#A8455A" stroke="#111" stroke-width="1"/>
<text x="191.00" y="1178.80" font-size="16" text-anchor="middle" fill="#0a0a0a" stroke="#0a0a0a" stroke-width="0.32">5</text>
<rect x="195.50" y="1006.42" width="9.0" height="152.08" fill="#93606A" stroke="#111" stroke-width="1"/>
<rect x="204.50" y="1035.56" width="9.0" height="122.94" fill="#94394A" stroke="#111" stroke-width="1"/>
<rect x="213.50" y="1041.54" width="9.0" height="116.96" fill="#8F3F48" stroke="#111" stroke-width="1"/>
<rect x="222.50" y="973.41" width="9.0" height="185.09" fill="#434343" stroke="#111" stroke-width="1"/>
<text x="227.00" y="1178.80" font-size="16" text-anchor="middle" fill="#0a0a0a" stroke="#0a0a0a" stroke-width="0.32">9</text>
<rect x="231.50" y="1031.51" width="9.0" height="126.99" fill="#F47C70" stroke="#111" stroke-width="1"/>
<rect x="240.50" y="1035.56" width="9.0" height="122.94" fill="#C9564B" stroke="#111" stroke-width="1"/>
<rect x="249.50" y="1045.60" width="9.0" height="112.91" fill="#D9604A" stroke="#111" stroke-width="1"/>
<rect x="258.50" y="1025.14" width="9.0" height="133.36" fill="#7D4E3C" stroke="#111" stroke-width="1"/>
<text x="263.00" y="1178.80" font-size="16" text-anchor="middle" fill="#0a0a0a" stroke="#0a0a0a" stroke-width="0.32">13</text>
<rect x="267.50" y="991.56" width="9.0" height="166.94" fill="#B8A59B" stroke="#111" stroke-width="1"/>
<rect x="276.50" y="1012.40" width="9.0" height="146.10" fill="#C09A87" stroke="#111" stroke-width="1"/>
<rect x="285.50" y="1050.61" width="9.0" height="107.89" fill="#8B5640" stroke="#111" stroke-width="1"/>
<rect x="294.50" y="1041.54" width="9.0" height="116.96" fill="#8C5A42" stroke="#111" stroke-width="1"/>
<text x="299.00" y="1178.80" font-size="16" text-anchor="middle" fill="#0a0a0a" stroke="#0a0a0a" stroke-width="0.32">17</text>
<rect x="303.50" y="1023.40" width="9.0" height="135.10" fill="#98705A" stroke="#111" stroke-width="1"/>
<rect x="312.50" y="1058.53" width="9.0" height="99.97" fill="#D18752" stroke="#111" stroke-width="1"/>
<rect x="321.50" y="1089.79" width="9.0" height="68.71" fill="#C98527" stroke="#111" stroke-width="1"/>
<rect x="330.50" y="1079.95" width="9.0" height="78.55" fill="#F5A95B" stroke="#111" stroke-width="1"/>
<text x="335.00" y="1178.80" font-size="16" text-anchor="middle" fill="#0a0a0a" stroke="#0a0a0a" stroke-width="0.32">21</text>
<rect x="339.50" y="1079.95" width="9.0" height="78.55" fill="#EE9C4A" stroke="#111" stroke-width="1"/>
<rect x="348.50" y="1016.64" width="9.0" height="141.85" fill="#F3DCBC" stroke="#111" stroke-width="1"/>
<rect x="357.50" y="1062.58" width="9.0" height="95.92" fill="#FFD28A" stroke="#111" stroke-width="1"/>
<rect x="366.50" y="1089.79" width="9.0" height="68.71" fill="#D48F28" stroke="#111" stroke-width="1"/>
<text x="371.00" y="1178.80" font-size="16" text-anchor="middle" fill="#0a0a0a" stroke="#0a0a0a" stroke-width="0.32">25</text>
<rect x="375.50" y="1076.67" width="9.0" height="81.83" fill="#FFCA66" stroke="#111" stroke-width="1"/>
<rect x="384.50" y="1018.58" width="9.0" height="139.92" fill="#B5A680" stroke="#111" stroke-width="1"/>
<rect x="393.50" y="1025.52" width="9.0" height="132.98" fill="#6B5B3E" stroke="#111" stroke-width="1"/>
<rect x="402.50" y="1081.69" width="9.0" height="76.81" fill="#F1C65A" stroke="#111" stroke-width="1"/>
<text x="407.00" y="1178.80" font-size="16" text-anchor="middle" fill="#0a0a0a" stroke="#0a0a0a" stroke-width="0.32">29</text>
<rect x="411.50" y="1052.54" width="9.0" height="105.96" fill="#9D8E5E" stroke="#111" stroke-width="1"/>
<rect x="420.50" y="1070.68" width="9.0" height="87.81" fill="#F2D166" stroke="#111" stroke-width="1"/>
<rect x="429.50" y="1081.69" width="9.0" height="76.81" fill="#D4A62E" stroke="#111" stroke-width="1"/>
<rect x="438.50" y="1048.49" width="9.0" height="110.01" fill="#E8DC94" stroke="#111" stroke-width="1"/>
<text x="443.00" y="1178.80" font-size="16" text-anchor="middle" fill="#0a0a0a" stroke="#0a0a0a" stroke-width="0.32">33</text>
<rect x="447.50" y="1062.77" width="9.0" height="95.73" fill="#A68E2F" stroke="#111" stroke-width="1"/>
<rect x="456.50" y="1021.47" width="9.0" height="137.03" fill="#6B6040" stroke="#111" stroke-width="1"/>
<rect x="465.50" y="985.38" width="9.0" height="173.12" fill="#BDBFA6" stroke="#111" stroke-width="1"/>
<rect x="474.50" y="1041.54" width="9.0" height="116.96" fill="#77703E" stroke="#111" stroke-width="1"/>
<text x="479.00" y="1178.80" font-size="16" text-anchor="middle" fill="#0a0a0a" stroke="#0a0a0a" stroke-width="0.32">37</text>
<rect x="483.50" y="1033.44" width="9.0" height="125.06" fill="#D5D89A" stroke="#111" stroke-width="1"/>
<rect x="492.50" y="985.38" width="9.0" height="173.12" fill="#4D5040" stroke="#111" stroke-width="1"/>
<rect x="501.50" y="1004.49" width="9.0" height="154.01" fill="#6E7850" stroke="#111" stroke-width="1"/>
<rect x="510.50" y="998.70" width="9.0" height="159.80" fill="#D5DAC0" stroke="#111" stroke-width="1"/>
<text x="515.00" y="1178.80" font-size="16" text-anchor="middle" fill="#0a0a0a" stroke="#0a0a0a" stroke-width="0.32">41</text>
<rect x="519.50" y="1045.60" width="9.0" height="112.91" fill="#8EA535" stroke="#111" stroke-width="1"/>
<rect x="528.50" y="1043.66" width="9.0" height="114.83" fill="#94B030" stroke="#111" stroke-width="1"/>
<rect x="537.50" y="969.36" width="9.0" height="189.14" fill="#434343" stroke="#111" stroke-width="1"/>
<rect x="546.50" y="1018.58" width="9.0" height="139.92" fill="#6F9A50" stroke="#111" stroke-width="1"/>
<text x="551.00" y="1178.80" font-size="16" text-anchor="middle" fill="#0a0a0a" stroke="#0a0a0a" stroke-width="0.32">45</text>
<rect x="555.50" y="1014.52" width="9.0" height="143.98" fill="#88A870" stroke="#111" stroke-width="1"/>
<rect x="564.50" y="1014.52" width="9.0" height="143.98" fill="#93B088" stroke="#111" stroke-width="1"/>
<rect x="573.50" y="1027.45" width="9.0" height="131.05" fill="#93CC88" stroke="#111" stroke-width="1"/>
<rect x="582.50" y="1010.47" width="9.0" height="148.03" fill="#4D7F4D" stroke="#111" stroke-width="1"/>
<text x="587.00" y="1178.80" font-size="16" text-anchor="middle" fill="#0a0a0a" stroke="#0a0a0a" stroke-width="0.32">49</text>
<rect x="591.50" y="991.36" width="9.0" height="167.14" fill="#5C8C66" stroke="#111" stroke-width="1"/>
<rect x="600.50" y="987.31" width="9.0" height="171.19" fill="#6A977A" stroke="#111" stroke-width="1"/>
<rect x="609.50" y="985.38" width="9.0" height="173.12" fill="#357048" stroke="#111" stroke-width="1"/>
<rect x="618.50" y="1008.35" width="9.0" height="150.15" fill="#0A9468" stroke="#111" stroke-width="1"/>
<text x="623.00" y="1178.80" font-size="16" text-anchor="middle" fill="#0a0a0a" stroke="#0a0a0a" stroke-width="0.32">53</text>
<rect x="627.50" y="998.31" width="9.0" height="160.19" fill="#B8E0D2" stroke="#111" stroke-width="1"/>
<rect x="636.50" y="1002.36" width="9.0" height="156.14" fill="#A8D8C8" stroke="#111" stroke-width="1"/>
<rect x="645.50" y="1021.47" width="9.0" height="137.03" fill="#4CBFA5" stroke="#111" stroke-width="1"/>
<rect x="654.50" y="1027.45" width="9.0" height="131.05" fill="#12A888" stroke="#111" stroke-width="1"/>
<text x="659.00" y="1178.80" font-size="16" text-anchor="middle" fill="#0a0a0a" stroke="#0a0a0a" stroke-width="0.32">57</text>
<rect x="663.50" y="1025.52" width="9.0" height="132.98" fill="#0F9F8A" stroke="#111" stroke-width="1"/>
<rect x="672.50" y="989.43" width="9.0" height="169.07" fill="#B5DDD5" stroke="#111" stroke-width="1"/>
<rect x="681.50" y="985.38" width="9.0" height="173.12" fill="#CCDDD8" stroke="#111" stroke-width="1"/>
<rect x="690.50" y="993.29" width="9.0" height="165.21" fill="#9CC5C0" stroke="#111" stroke-width="1"/>
<text x="695.00" y="1178.80" font-size="16" text-anchor="middle" fill="#0a0a0a" stroke="#0a0a0a" stroke-width="0.32">61</text>
<rect x="699.50" y="1006.42" width="9.0" height="152.08" fill="#8FA8A3" stroke="#111" stroke-width="1"/>
<rect x="708.50" y="1020.50" width="9.0" height="138.00" fill="#4A4E50" stroke="#111" stroke-width="1"/>
<rect x="717.50" y="1031.51" width="9.0" height="126.99" fill="#0AA0AA" stroke="#111" stroke-width="1"/>
<rect x="726.50" y="1041.54" width="9.0" height="116.96" fill="#3E7573" stroke="#111" stroke-width="1"/>
<text x="731.00" y="1178.80" font-size="16" text-anchor="middle" fill="#0a0a0a" stroke="#0a0a0a" stroke-width="0.32">65</text>
<rect x="735.50" y="1048.49" width="9.0" height="110.01" fill="#08808A" stroke="#111" stroke-width="1"/>
<rect x="744.50" y="1056.60" width="9.0" height="101.90" fill="#088898" stroke="#111" stroke-width="1"/>
<rect x="753.50" y="1041.54" width="9.0" height="116.96" fill="#6AAAC0" stroke="#111" stroke-width="1"/>
<rect x="762.50" y="1020.50" width="9.0" height="138.00" fill="#687F8C" stroke="#111" stroke-width="1"/>
<text x="767.00" y="1178.80" font-size="16" text-anchor="middle" fill="#0a0a0a" stroke="#0a0a0a" stroke-width="0.32">69</text>
<rect x="771.50" y="1072.62" width="9.0" height="85.88" fill="#72B8DC" stroke="#111" stroke-width="1"/>
<rect x="780.50" y="1081.69" width="9.0" height="76.81" fill="#1A5F7A" stroke="#111" stroke-width="1"/>
<rect x="789.50" y="1006.42" width="9.0" height="152.08" fill="#AAB8C0" stroke="#111" stroke-width="1"/>
<rect x="798.50" y="1099.63" width="9.0" height="58.86" fill="#2590C8" stroke="#111" stroke-width="1"/>
<text x="803.00" y="1178.80" font-size="16" text-anchor="middle" fill="#0a0a0a" stroke="#0a0a0a" stroke-width="0.32">73</text>
<rect x="807.50" y="983.45" width="9.0" height="175.05" fill="#404244" stroke="#111" stroke-width="1"/>
<rect x="816.50" y="1091.72" width="9.0" height="66.78" fill="#215575" stroke="#111" stroke-width="1"/>
<rect x="825.50" y="1114.69" width="9.0" height="43.81" fill="#2080C0" stroke="#111" stroke-width="1"/>
<rect x="834.50" y="1068.56" width="9.0" height="89.94" fill="#456E98" stroke="#111" stroke-width="1"/>
<text x="839.00" y="1178.80" font-size="16" text-anchor="middle" fill="#0a0a0a" stroke="#0a0a0a" stroke-width="0.32">77</text>
<rect x="843.50" y="1106.78" width="9.0" height="51.72" fill="#2F6CB5" stroke="#111" stroke-width="1"/>
<rect x="852.50" y="1041.54" width="9.0" height="116.96" fill="#9DB5DC" stroke="#111" stroke-width="1"/>
<rect x="861.50" y="1050.61" width="9.0" height="107.89" fill="#8F9CCB" stroke="#111" stroke-width="1"/>
<rect x="870.50" y="1052.54" width="9.0" height="105.96" fill="#5A60A8" stroke="#111" stroke-width="1"/>
<text x="875.00" y="1178.80" font-size="16" text-anchor="middle" fill="#0a0a0a" stroke="#0a0a0a" stroke-width="0.32">81</text>
<rect x="879.50" y="998.31" width="9.0" height="160.19" fill="#D2D6EC" stroke="#111" stroke-width="1"/>
<rect x="888.50" y="1014.52" width="9.0" height="143.98" fill="#ABA9D0" stroke="#111" stroke-width="1"/>
<rect x="897.50" y="1002.36" width="9.0" height="156.14" fill="#44444C" stroke="#111" stroke-width="1"/>
<rect x="906.50" y="1016.45" width="9.0" height="142.05" fill="#5C5C70" stroke="#111" stroke-width="1"/>
<text x="911.00" y="1178.80" font-size="16" text-anchor="middle" fill="#0a0a0a" stroke="#0a0a0a" stroke-width="0.32">85</text>
<rect x="915.50" y="1021.47" width="9.0" height="137.03" fill="#948CC5" stroke="#111" stroke-width="1"/>
<rect x="924.50" y="1035.56" width="9.0" height="122.94" fill="#63508C" stroke="#111" stroke-width="1"/>
<rect x="933.50" y="1018.38" width="9.0" height="140.12" fill="#A880BA" stroke="#111" stroke-width="1"/>
<rect x="942.50" y="1010.47" width="9.0" height="148.03" fill="#6A4A7C" stroke="#111" stroke-width="1"/>
<text x="947.00" y="1178.80" font-size="16" text-anchor="middle" fill="#0a0a0a" stroke="#0a0a0a" stroke-width="0.32">89</text>
<rect x="951.50" y="1014.52" width="9.0" height="143.98" fill="#7A4E85" stroke="#111" stroke-width="1"/>
<rect x="960.50" y="993.29" width="9.0" height="165.21" fill="#BEBEBE" stroke="#111" stroke-width="1"/>
<rect x="969.50" y="1018.38" width="9.0" height="140.12" fill="#957A98" stroke="#111" stroke-width="1"/>
<rect x="978.50" y="996.38" width="9.0" height="162.12" fill="#AF92A8" stroke="#111" stroke-width="1"/>
<text x="983.00" y="1178.80" font-size="16" text-anchor="middle" fill="#0a0a0a" stroke="#0a0a0a" stroke-width="0.32">93</text>
<rect x="987.50" y="1031.51" width="9.0" height="126.99" fill="#7E4A6C" stroke="#111" stroke-width="1"/>
<rect x="996.50" y="1018.38" width="9.0" height="140.12" fill="#BE90B0" stroke="#111" stroke-width="1"/>
<rect x="1005.50" y="1004.49" width="9.0" height="154.01" fill="#D8A8C8" stroke="#111" stroke-width="1"/>
<rect x="1014.50" y="996.38" width="9.0" height="162.12" fill="#9C5C84" stroke="#111" stroke-width="1"/>
<text x="1019.00" y="1178.80" font-size="16" text-anchor="middle" fill="#0a0a0a" stroke="#0a0a0a" stroke-width="0.32">97</text>
<rect x="1023.50" y="1018.38" width="9.0" height="140.12" fill="#C86898" stroke="#111" stroke-width="1"/>
<rect x="1032.50" y="1033.44" width="9.0" height="125.06" fill="#B0507C" stroke="#111" stroke-width="1"/>
<text x="140.30" y="1163.20" font-size="16" text-anchor="end" fill="#0a0a0a" stroke="#0a0a0a" stroke-width="0.32">0</text>
<text x="140.30" y="1143.90" font-size="16" text-anchor="end" fill="#0a0a0a" stroke="#0a0a0a" stroke-width="0.32">10</text>
<text x="140.30" y="1124.60" font-size="16" text-anchor="end" fill="#0a0a0a" stroke="#0a0a0a" stroke-width="0.32">20</text>
<text x="140.30" y="1105.30" font-size="16" text-anchor="end" fill="#0a0a0a" stroke="#0a0a0a" stroke-width="0.32">30</text>
<text x="140.30" y="1086.00" font-size="16" text-anchor="end" fill="#0a0a0a" stroke="#0a0a0a" stroke-width="0.32">40</text>
<text x="140.30" y="1066.70" font-size="16" text-anchor="end" fill="#0a0a0a" stroke="#0a0a0a" stroke-width="0.32">50</text>
<text x="140.30" y="1047.40" font-size="16" text-anchor="end" fill="#0a0a0a" stroke="#0a0a0a" stroke-width="0.32">60</text>
<text x="140.30" y="1028.10" font-size="16" text-anchor="end" fill="#0a0a0a" stroke="#0a0a0a" stroke-width="0.32">70</text>
<text x="140.30" y="1008.80" font-size="16" text-anchor="end" fill="#0a0a0a" stroke="#0a0a0a" stroke-width="0.32">80</text>
<text x="140.30" y="989.50" font-size="16" text-anchor="end" fill="#0a0a0a" stroke="#0a0a0a" stroke-width="0.32">90</text>
<text x="140.30" y="970.20" font-size="16" text-anchor="end" fill="#0a0a0a" stroke="#0a0a0a" stroke-width="0.32">100</text>
<path d="M150.5 1158.50h-6M150.5 1139.20h-6M150.5 1119.90h-6M150.5 1100.60h-6M150.5 1081.30h-6M150.5 1062.00h-6M150.5 1042.70h-6M150.5 1023.40h-6M150.5 1004.10h-6M150.5 984.80h-6M150.5 965.50h-6" stroke="#000" stroke-width="1" fill="none"/>
<text x="594.50" y="1200.00" font-size="16.5" text-anchor="middle" fill="#0a0a0a" stroke="#0a0a0a" stroke-width="0.32" textLength="79.0" lengthAdjust="spacingAndGlyphs">CES Color</text>
<text transform="translate(99.20 1174.00) rotate(-90)" font-size="17" fill="#0a0a0a" stroke="#0a0a0a" stroke-width="0.32">Color Sample Fidelity, R<tspan font-size="12.3" dy="8">f,CESi</tspan></text>
<rect x="144" y="1216.3" width="456" height="207" fill="#e6e6e6"/>
<text x="90.50" y="1230.50" font-size="17" font-weight="700" fill="#0a0a0a" stroke="#0a0a0a" stroke-width="0.32" textLength="52.5" lengthAdjust="spacingAndGlyphs">Notes:</text>
<text x="154.30" y="1235.60" font-size="16.3" fill="#0a0a0a" stroke="#0a0a0a" stroke-width="0.32">Level 3</text>
<rect x="764.5" y="1216.8" width="176" height="207.3" fill="#fff" stroke="#000" stroke-width="1.15"/>
<text x="640.00" y="1250.70" font-size="16.5" font-weight="700" fill="#0a0a0a" stroke="#0a0a0a" stroke-width="0.32">x</text>
<text x="669.00" y="1250.70" font-size="16.5" font-weight="700" fill="#0a0a0a" stroke="#0a0a0a" stroke-width="0.32" textLength="54.3" lengthAdjust="spacingAndGlyphs">0.3062</text>
<text x="640.00" y="1280.70" font-size="16.5" font-weight="700" fill="#0a0a0a" stroke="#0a0a0a" stroke-width="0.32">y</text>
<text x="669.00" y="1280.70" font-size="16.5" font-weight="700" fill="#0a0a0a" stroke="#0a0a0a" stroke-width="0.32" textLength="54.3" lengthAdjust="spacingAndGlyphs">0.3081</text>
<text x="640.00" y="1310.70" font-size="16.5" font-weight="700" fill="#0a0a0a" stroke="#0a0a0a" stroke-width="0.32">u'</text>
<text x="669.00" y="1310.70" font-size="16.5" font-weight="700" fill="#0a0a0a" stroke="#0a0a0a" stroke-width="0.32" textLength="54.3" lengthAdjust="spacingAndGlyphs">0.2013</text>
<text x="640.00" y="1340.70" font-size="16.5" font-weight="700" fill="#0a0a0a" stroke="#0a0a0a" stroke-width="0.32">v'</text>
<text x="669.00" y="1340.70" font-size="16.5" font-weight="700" fill="#0a0a0a" stroke="#0a0a0a" stroke-width="0.32" textLength="54.3" lengthAdjust="spacingAndGlyphs">0.4557</text>
<text x="852.00" y="1246.00" font-size="16.5" text-anchor="middle" font-weight="700" fill="#0a0a0a" stroke="#0a0a0a" stroke-width="0.32" textLength="115.0" lengthAdjust="spacingAndGlyphs">CIE 13.3-1995</text>
<text x="852.00" y="1276.00" font-size="16.5" text-anchor="middle" font-weight="700" fill="#0a0a0a" stroke="#0a0a0a" stroke-width="0.32" textLength="40.0" lengthAdjust="spacingAndGlyphs">(CRI)</text>
<text x="825.50" y="1305.70" font-size="16.5" font-weight="700" fill="#0a0a0a" stroke="#0a0a0a" stroke-width="0.32">R<tspan font-size="11.5" dy="7">a</tspan></text>
<text x="860.00" y="1305.70" font-size="16.5" font-weight="700" fill="#0a0a0a" stroke="#0a0a0a" stroke-width="0.32" textLength="19.5" lengthAdjust="spacingAndGlyphs">70</text>
<text x="823.20" y="1335.70" font-size="16.5" font-weight="700" fill="#0a0a0a" stroke="#0a0a0a" stroke-width="0.32">R<tspan font-size="11.5" dy="7">9</tspan></text>
<text x="856.70" y="1335.70" font-size="16.5" font-weight="700" fill="#0a0a0a" stroke="#0a0a0a" stroke-width="0.32" textLength="26.0" lengthAdjust="spacingAndGlyphs">-12</text>
<text x="600.00" y="1449.30" font-size="16.5" text-anchor="middle" font-weight="700" fill="#0a0a0a" stroke="#0a0a0a" stroke-width="0.32" textLength="387.0" lengthAdjust="spacingAndGlyphs">Colors are for visual orientation purposes only.</text>
</g>
<g id="watermark">
<g opacity="0.9">
<polygon points="762.8,593.3 881.8,626.6 874.6,695.6 764.3,728.2 651.6,695.6 643.8,626.6" fill="#f2edd4" stroke="#f2edd4" stroke-width="11" stroke-linejoin="round" opacity="0.5"/>
<polygon points="762.8,593.3 881.8,626.6 874.6,695.6 764.3,728.2 651.6,695.6 643.8,626.6" fill="#f2edd4" stroke="#f2edd4" stroke-width="7.5" stroke-linejoin="round"/>
<polygon points="762.8,593.3 881.8,626.6 874.6,695.6 764.3,728.2 651.6,695.6 643.8,626.6" fill="#44596c" stroke="#44596c" stroke-width="1.2" stroke-linejoin="round"/>
<rect x="744" y="601.1" width="38" height="6.2" fill="#f7873c"/>
<path d="M752.3 607.1L773.6 607.1L782.3 625.1L744 625.1ZM762.9 610.5L756 619.1L769.9 619.1Z" fill="#f7873c" fill-rule="evenodd"/>
<polygon points="736.1,638.6 747.8,638.6 755.3,629.6 750.8,629.6" fill="#f9cd4c"/>
<polygon points="759,638.6 766.9,638.6 764.6,629.6 761.6,629.6" fill="#f9cd4c"/>
<polygon points="770.3,629.6 774.8,629.6 791.3,638.6 779.3,638.6" fill="#f9cd4c"/>
<polygon points="657.3,679.4 707.6,679.4 688.1,699.3 659.9,689.6" fill="#f9cd4c"/>
<polygon points="745.7,679.4 780.8,679.4 791.7,714.5 763.9,722.7 735.3,714.5" fill="#f9cd4c"/>
<polygon points="820.9,679.4 871.4,679.4 869.3,689.6 840.4,699.3" fill="#f9cd4c"/>
<text x="656.80" y="673.20" font-size="40.5" font-weight="700" fill="#f7873c" textLength="205.0" lengthAdjust="spacingAndGlyphs" stroke="#f7873c" stroke-width="2.6" stroke-linejoin="round">ZEROAIR</text>
<text transform="translate(872.20 673.30) rotate(-90)" font-size="10.5" font-weight="700" fill="#f7873c" textLength="27.5" lengthAdjust="spacingAndGlyphs" stroke="#f7873c" stroke-width="0.5">ORG</text>
</g>
</g>
</svg>
</body></html>
